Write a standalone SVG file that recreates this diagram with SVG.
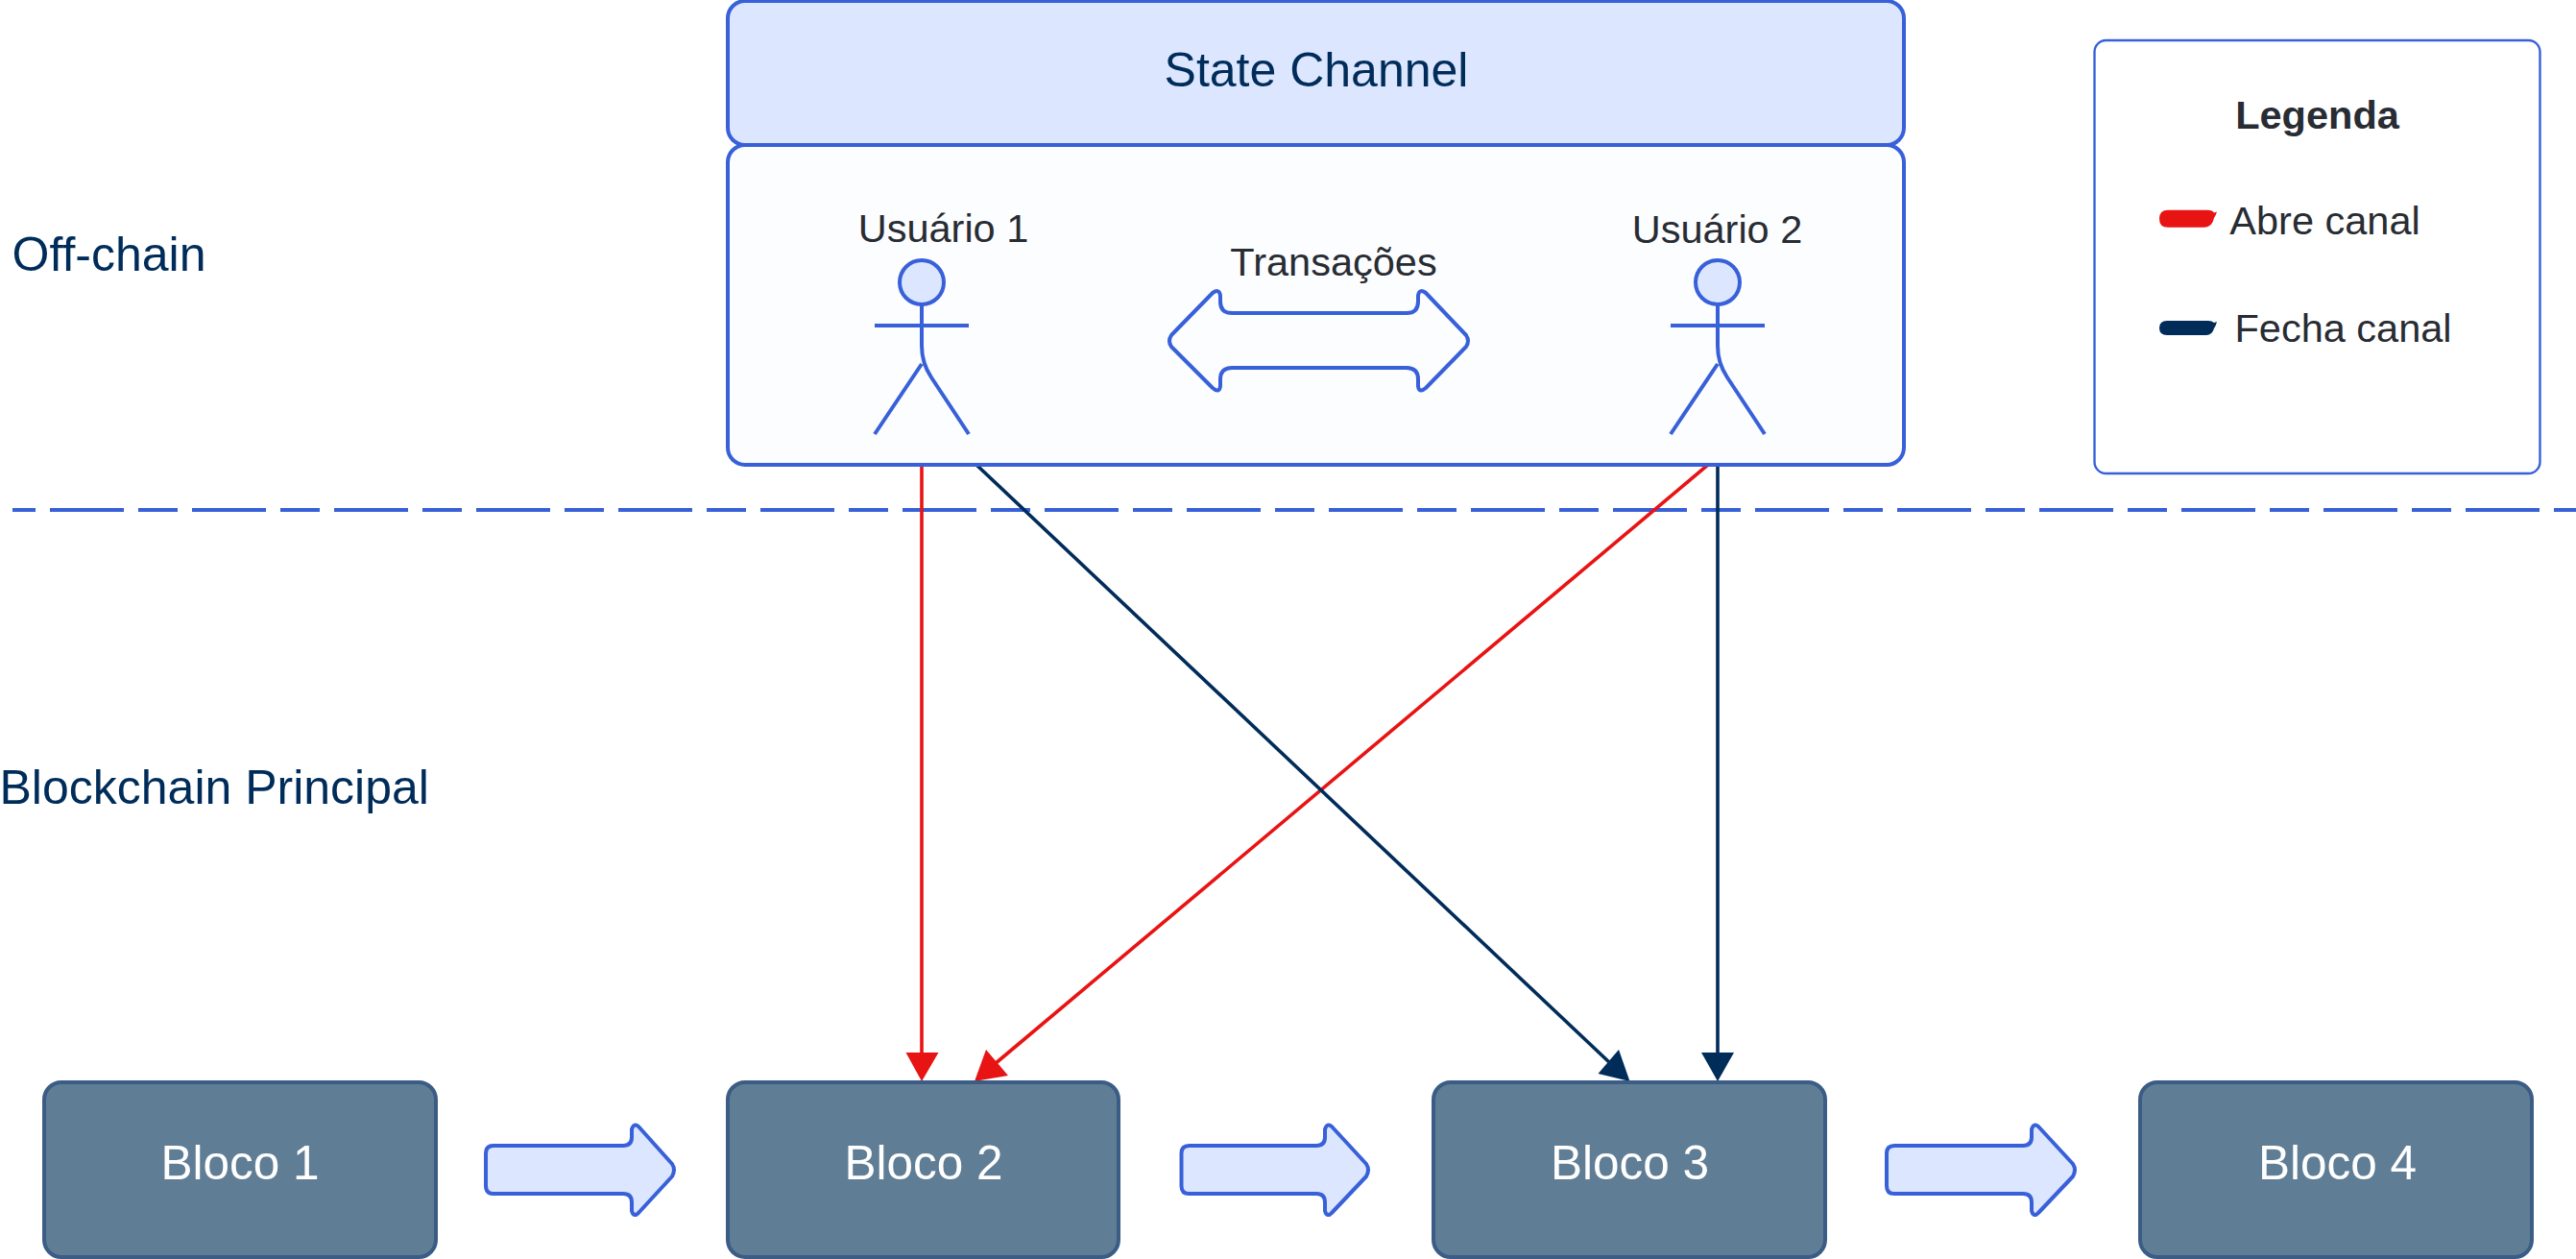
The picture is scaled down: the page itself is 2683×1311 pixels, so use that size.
<svg xmlns="http://www.w3.org/2000/svg" width="2683" height="1311" viewBox="0 0 2683 1311">
<defs>
<style>
text{font-family:"Liberation Sans",Arial,sans-serif;}
.t{font-size:41.5px;fill:#282c33;text-anchor:middle}
.h{font-size:50px;fill:#002c5a}
.bt{font-size:49.5px;fill:#fff;text-anchor:middle}
.blk{fill:#607d96;stroke:#3a5c85;stroke-width:4}
.act{fill:none;stroke:#3860d8;stroke-width:4}
.arr{fill:#dce6ff;stroke:#3860d8;stroke-width:4;stroke-linejoin:round}
.red{stroke:#e81313;stroke-width:3.6;fill:none}
.navy{stroke:#002c5a;stroke-width:3.6;fill:none}
</style>
</defs>
<g id="divider"><line x1="13" y1="531" x2="2683" y2="531" stroke="#3860d8" stroke-width="4" stroke-dasharray="41 15 77 15" stroke-dashoffset="17"/></g>
<g id="connectors">
<path class="red" d="M960 484V1098"/>
<path d="M943.500 1096H977.500L960 1126Z" fill="#e81313"/>
<path class="red" d="M1779 484L1036 1108"/>
<path d="M1015 1126L1027 1093L1050 1120Z" fill="#e81313"/>
<path class="navy" d="M1017 484L1677 1107"/>
<path d="M1697.500 1126L1686 1093L1664.500 1118Z" fill="#002c5a"/>
<path class="navy" d="M1789 484V1098"/>
<path d="M1772 1096H1806L1789 1126Z" fill="#002c5a"/>
</g>
<g id="state-channel-body"><rect x="758" y="151" width="1225" height="333" rx="18" fill="#fcfdff" stroke="#3860d8" stroke-width="4"/></g>
<g id="state-channel-title"><rect x="758" y="1" width="1225" height="150" rx="18" fill="#dce6ff" stroke="#3860d8" stroke-width="4"/><text class="h" x="1371" y="90" text-anchor="middle">State Channel</text></g>
<g id="user1">
<text class="t" x="982.500" y="252">Usuário 1</text>
<circle cx="960" cy="294" r="23" fill="#dce6ff" stroke="#3860d8" stroke-width="4"/>
<path class="act" d="M911 339H1009M960 317V360Q960 378 970 393L1009 452M960 379L911 452"/>
</g>
<g id="user2">
<text class="t" x="1788.500" y="253">Usuário 2</text>
<circle cx="1789" cy="294" r="23" fill="#dce6ff" stroke="#3860d8" stroke-width="4"/>
<path class="act" d="M1740 339H1838M1789 317V360Q1789 378 1799 393L1838 452M1789 379L1740 452"/>
</g>
<g id="transacoes">
<text class="t" x="1389" y="286.500">Transações</text>
<path fill="none" stroke="#3860d8" stroke-width="4" stroke-linejoin="round" d="M1283 326H1465Q1477 326 1477 314V308Q1478 300 1485 305L1527 349Q1531 355 1527 361L1485 404Q1478 410 1477 402V395Q1477 383 1465 383H1283Q1271 383 1271 395V402Q1270 410 1263 404L1220 361Q1216 355 1220 349L1263 305Q1270 300 1271 308V314Q1271 326 1283 326Z"/>
</g>
<g id="legend">
<rect x="2181.500" y="42" width="464" height="451" rx="12" fill="#fff" stroke="#3860d8" stroke-width="2.400"/>
<text x="2413.500" y="134" font-size="41.500" font-weight="700" fill="#282c33" text-anchor="middle">Legenda</text>
<path d="M2258 218.700H2300Q2304 218.700 2306 221.500L2309 220.500Q2308 224 2306 227Q2304 236.700 2296 236.700H2258Q2249 236.700 2249 227.700Q2249 218.700 2258 218.700Z" fill="#e81313"/>
<text class="t" x="2421.500" y="243.500">Abre canal</text>
<path d="M2257 334H2300Q2304 334 2306 336L2309 335Q2308 339 2306 342Q2304 349 2298 349H2257Q2249 349 2249 341.500Q2249 334 2257 334Z" fill="#002c5a"/>
<text class="t" x="2440.500" y="356">Fecha canal</text>
</g>
<g id="bloco1"><rect class="blk" x="46" y="1127" width="408" height="182" rx="18"/><text class="bt" x="250" y="1228">Bloco 1</text></g>
<g id="bloco2"><rect class="blk" x="758" y="1127" width="407" height="182" rx="18"/><text class="bt" x="962" y="1228">Bloco 2</text></g>
<g id="bloco3"><rect class="blk" x="1493" y="1127" width="408" height="182" rx="18"/><text class="bt" x="1697.500" y="1228">Bloco 3</text></g>
<g id="bloco4"><rect class="blk" x="2229" y="1127" width="408" height="182" rx="18"/><text class="bt" x="2434.500" y="1228">Bloco 4</text></g>
<g id="arrow1"><path class="arr" d="M514 1193H649Q658 1193 658 1184V1176Q660 1169 665 1173L700 1212Q704 1218 700 1225L665 1263Q660 1268 658 1261V1252Q658 1243 649 1243H514Q506 1243 506 1235V1201Q506 1193 514 1193Z"/></g>
<g id="arrow2"><path class="arr" d="M1238.500 1193H1371Q1380 1193 1380 1184V1176Q1382 1169 1387 1173L1423 1212Q1427 1218 1423 1225L1387 1263Q1382 1268 1380 1261V1252Q1380 1243 1371 1243H1238.500Q1230.500 1243 1230.500 1235V1201Q1230.500 1193 1238.500 1193Z"/></g>
<g id="arrow3"><path class="arr" d="M1973 1193H2107Q2116 1193 2116 1184V1176Q2118 1169 2123 1173L2159 1212Q2163 1218 2159 1225L2123 1263Q2118 1268 2116 1261V1252Q2116 1243 2107 1243H1973Q1965 1243 1965 1235V1201Q1965 1193 1973 1193Z"/></g>
<g id="labels">
<text class="h" x="12.500" y="281.500">Off-chain</text>
<text class="h" x="-0.500" y="836.500">Blockchain Principal</text>
</g>
</svg>
